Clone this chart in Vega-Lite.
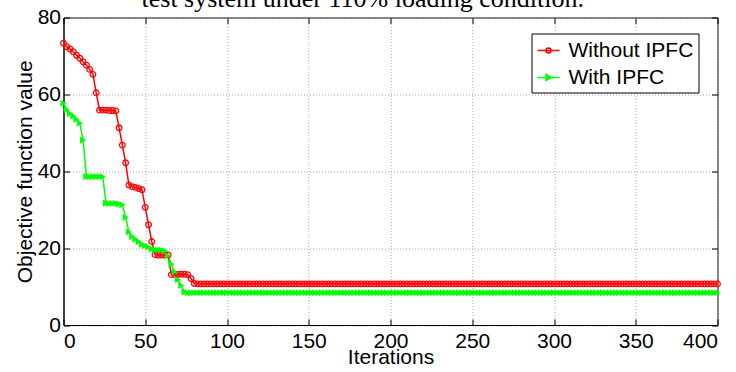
{
"$schema": "https://vega.github.io/schema/vega-lite/v6.json",
"autosize": {"type": "none"},
"padding": {"left": 63.5, "top": 17.5, "right": 18.5, "bottom": 47},
"width": 654,
"height": 307.5,
"background": "white",
"config": {
  "view": {"stroke": "black", "strokeWidth": 1},
  "axis": {"domainColor": "black", "tickColor": "black", "labelColor": "black", "titleColor": "black", "labelFont": "Liberation Sans", "titleFont": "Liberation Sans", "labelFontSize": 21, "titleFontSize": 21, "titleFontWeight": "normal", "gridColor": "#a8a8a8", "gridDash": [1, 2], "gridWidth": 1, "tickSize": -6, "labelPadding": 13}
},
"datasets": {
"caption": [{"caption": "test system under 110% loading condition.", "cx": 183, "cy": 80}],
"iters": [
{"it":0,"wo":73.3,"w":57.7},{"it":2,"wo":72.4,"w":56.0},{"it":4,"wo":71.8,"w":55.0},{"it":6,"wo":71.1,"w":54.4},{"it":8,"wo":70.2,"w":53.5},
{"it":10,"wo":69.4,"w":52.5},{"it":12,"wo":68.5,"w":48.1},{"it":14,"wo":67.6,"w":38.6},{"it":16,"wo":66.5,"w":38.6},{"it":18,"wo":65.2,"w":38.6},
{"it":20,"wo":60.4,"w":38.6},{"it":22,"wo":55.9,"w":38.6},{"it":24,"wo":55.9,"w":38.6},{"it":26,"wo":55.9,"w":31.7},{"it":28,"wo":55.8,"w":31.6},
{"it":30,"wo":55.8,"w":31.6},{"it":32,"wo":55.7,"w":31.6},{"it":34,"wo":51.3,"w":31.5},{"it":36,"wo":46.8,"w":31.3},{"it":38,"wo":42.2,"w":28.0},
{"it":40,"wo":36.4,"w":24.2},{"it":42,"wo":36.0,"w":23.0},{"it":44,"wo":35.8,"w":22.3},{"it":46,"wo":35.5,"w":21.7},{"it":48,"wo":35.2,"w":21.0},
{"it":50,"wo":30.6,"w":20.6},{"it":52,"wo":26.1,"w":20.3},{"it":54,"wo":21.7,"w":19.8},{"it":56,"wo":18.3,"w":19.5},{"it":58,"wo":18.2,"w":19.5},
{"it":60,"wo":18.2,"w":19.5},{"it":62,"wo":18.2,"w":19.3},{"it":64,"wo":18.2,"w":18.0},{"it":66,"wo":13.1,"w":15.8},{"it":68,"wo":13.2,"w":13.8},
{"it":70,"wo":13.2,"w":11.8},{"it":72,"wo":13.2,"w":10.3},{"it":74,"wo":13.2,"w":8.6},{"it":76,"wo":13.1,"w":8.4},{"it":78,"wo":12.1,"w":8.4},
{"it":80,"wo":10.8,"w":8.4},{"it":82,"wo":10.7,"w":8.4},{"it":84,"wo":10.7,"w":8.4},{"it":86,"wo":10.7,"w":8.4},{"it":88,"wo":10.7,"w":8.4},
{"it":90,"wo":10.7,"w":8.4},{"it":92,"wo":10.7,"w":8.4},{"it":94,"wo":10.7,"w":8.4},{"it":96,"wo":10.7,"w":8.4},{"it":98,"wo":10.7,"w":8.4},
{"it":100,"wo":10.7,"w":8.4},{"it":102,"wo":10.7,"w":8.4},{"it":104,"wo":10.7,"w":8.4},{"it":106,"wo":10.7,"w":8.4},{"it":108,"wo":10.7,"w":8.4},
{"it":110,"wo":10.7,"w":8.4},{"it":112,"wo":10.7,"w":8.4},{"it":114,"wo":10.7,"w":8.4},{"it":116,"wo":10.7,"w":8.4},{"it":118,"wo":10.7,"w":8.4},
{"it":120,"wo":10.7,"w":8.4},{"it":122,"wo":10.7,"w":8.4},{"it":124,"wo":10.7,"w":8.4},{"it":126,"wo":10.7,"w":8.4},{"it":128,"wo":10.7,"w":8.4},
{"it":130,"wo":10.7,"w":8.4},{"it":132,"wo":10.7,"w":8.4},{"it":134,"wo":10.7,"w":8.4},{"it":136,"wo":10.7,"w":8.4},{"it":138,"wo":10.7,"w":8.4},
{"it":140,"wo":10.7,"w":8.4},{"it":142,"wo":10.7,"w":8.4},{"it":144,"wo":10.7,"w":8.4},{"it":146,"wo":10.7,"w":8.4},{"it":148,"wo":10.7,"w":8.4},
{"it":150,"wo":10.7,"w":8.4},{"it":152,"wo":10.7,"w":8.4},{"it":154,"wo":10.7,"w":8.4},{"it":156,"wo":10.7,"w":8.4},{"it":158,"wo":10.7,"w":8.4},
{"it":160,"wo":10.7,"w":8.4},{"it":162,"wo":10.7,"w":8.4},{"it":164,"wo":10.7,"w":8.4},{"it":166,"wo":10.7,"w":8.4},{"it":168,"wo":10.7,"w":8.4},
{"it":170,"wo":10.7,"w":8.4},{"it":172,"wo":10.7,"w":8.4},{"it":174,"wo":10.7,"w":8.4},{"it":176,"wo":10.7,"w":8.4},{"it":178,"wo":10.7,"w":8.4},
{"it":180,"wo":10.7,"w":8.4},{"it":182,"wo":10.7,"w":8.4},{"it":184,"wo":10.7,"w":8.4},{"it":186,"wo":10.7,"w":8.4},{"it":188,"wo":10.7,"w":8.4},
{"it":190,"wo":10.7,"w":8.4},{"it":192,"wo":10.7,"w":8.4},{"it":194,"wo":10.7,"w":8.4},{"it":196,"wo":10.7,"w":8.4},{"it":198,"wo":10.7,"w":8.4},
{"it":200,"wo":10.7,"w":8.4},{"it":202,"wo":10.7,"w":8.4},{"it":204,"wo":10.7,"w":8.4},{"it":206,"wo":10.7,"w":8.4},{"it":208,"wo":10.7,"w":8.4},
{"it":210,"wo":10.7,"w":8.4},{"it":212,"wo":10.7,"w":8.4},{"it":214,"wo":10.7,"w":8.4},{"it":216,"wo":10.7,"w":8.4},{"it":218,"wo":10.7,"w":8.4},
{"it":220,"wo":10.7,"w":8.4},{"it":222,"wo":10.7,"w":8.4},{"it":224,"wo":10.7,"w":8.4},{"it":226,"wo":10.7,"w":8.4},{"it":228,"wo":10.7,"w":8.4},
{"it":230,"wo":10.7,"w":8.4},{"it":232,"wo":10.7,"w":8.4},{"it":234,"wo":10.7,"w":8.4},{"it":236,"wo":10.7,"w":8.4},{"it":238,"wo":10.7,"w":8.4},
{"it":240,"wo":10.7,"w":8.4},{"it":242,"wo":10.7,"w":8.4},{"it":244,"wo":10.7,"w":8.4},{"it":246,"wo":10.7,"w":8.4},{"it":248,"wo":10.7,"w":8.4},
{"it":250,"wo":10.7,"w":8.4},{"it":252,"wo":10.7,"w":8.4},{"it":254,"wo":10.7,"w":8.4},{"it":256,"wo":10.7,"w":8.4},{"it":258,"wo":10.7,"w":8.4},
{"it":260,"wo":10.7,"w":8.4},{"it":262,"wo":10.7,"w":8.4},{"it":264,"wo":10.7,"w":8.4},{"it":266,"wo":10.7,"w":8.4},{"it":268,"wo":10.7,"w":8.4},
{"it":270,"wo":10.7,"w":8.4},{"it":272,"wo":10.7,"w":8.4},{"it":274,"wo":10.7,"w":8.4},{"it":276,"wo":10.7,"w":8.4},{"it":278,"wo":10.7,"w":8.4},
{"it":280,"wo":10.7,"w":8.4},{"it":282,"wo":10.7,"w":8.4},{"it":284,"wo":10.7,"w":8.4},{"it":286,"wo":10.7,"w":8.4},{"it":288,"wo":10.7,"w":8.4},
{"it":290,"wo":10.7,"w":8.4},{"it":292,"wo":10.7,"w":8.4},{"it":294,"wo":10.7,"w":8.4},{"it":296,"wo":10.7,"w":8.4},{"it":298,"wo":10.7,"w":8.4},
{"it":300,"wo":10.7,"w":8.4},{"it":302,"wo":10.7,"w":8.4},{"it":304,"wo":10.7,"w":8.4},{"it":306,"wo":10.7,"w":8.4},{"it":308,"wo":10.7,"w":8.4},
{"it":310,"wo":10.7,"w":8.4},{"it":312,"wo":10.7,"w":8.4},{"it":314,"wo":10.7,"w":8.4},{"it":316,"wo":10.7,"w":8.4},{"it":318,"wo":10.7,"w":8.4},
{"it":320,"wo":10.7,"w":8.4},{"it":322,"wo":10.7,"w":8.4},{"it":324,"wo":10.7,"w":8.4},{"it":326,"wo":10.7,"w":8.4},{"it":328,"wo":10.7,"w":8.4},
{"it":330,"wo":10.7,"w":8.4},{"it":332,"wo":10.7,"w":8.4},{"it":334,"wo":10.7,"w":8.4},{"it":336,"wo":10.7,"w":8.4},{"it":338,"wo":10.7,"w":8.4},
{"it":340,"wo":10.7,"w":8.4},{"it":342,"wo":10.7,"w":8.4},{"it":344,"wo":10.7,"w":8.4},{"it":346,"wo":10.7,"w":8.4},{"it":348,"wo":10.7,"w":8.4},
{"it":350,"wo":10.7,"w":8.4},{"it":352,"wo":10.7,"w":8.4},{"it":354,"wo":10.7,"w":8.4},{"it":356,"wo":10.7,"w":8.4},{"it":358,"wo":10.7,"w":8.4},
{"it":360,"wo":10.7,"w":8.4},{"it":362,"wo":10.7,"w":8.4},{"it":364,"wo":10.7,"w":8.4},{"it":366,"wo":10.7,"w":8.4},{"it":368,"wo":10.7,"w":8.4},
{"it":370,"wo":10.7,"w":8.4},{"it":372,"wo":10.7,"w":8.4},{"it":374,"wo":10.7,"w":8.4},{"it":376,"wo":10.7,"w":8.4},{"it":378,"wo":10.7,"w":8.4},
{"it":380,"wo":10.7,"w":8.4},{"it":382,"wo":10.7,"w":8.4},{"it":384,"wo":10.7,"w":8.4},{"it":386,"wo":10.7,"w":8.4},{"it":388,"wo":10.7,"w":8.4},
{"it":390,"wo":10.7,"w":8.4},{"it":392,"wo":10.7,"w":8.4},{"it":394,"wo":10.7,"w":8.4},{"it":396,"wo":10.7,"w":8.4},{"it":398,"wo":10.7,"w":8.4},
{"it":400,"wo":10.7,"w":8.4}
]},
"data": {"name": "iters"},
"transform": [{"fold": ["wo", "w"], "as": ["series", "value"]}],
"encoding": {
  "x": {"field": "it", "type": "quantitative", "scale": {"domain": [0, 400], "nice": false, "zero": false}, "axis": null},
  "y": {"field": "value", "type": "quantitative", "scale": {"domain": [0, 80], "nice": false}, "axis": null}
},
"layer": [
  {
    "mark": {"type": "point", "opacity": 0},
    "encoding": {
      "x": {"field": "it", "type": "quantitative", "axis": {"orient": "top", "labels": false, "grid": false, "title": null, "values": [0,50,100,150,200,250,300,350,400], "domain": false}},
      "y": {"field": "value", "type": "quantitative", "axis": {"orient": "right", "labels": false, "grid": false, "title": null, "values": [0,20,40,60,80], "domain": false}}
    }
  },
  {
    "mark": {"type": "line", "strokeWidth": 1.5},
    "encoding": {
      "x": {"field": "it", "type": "quantitative", "axis": {"orient": "bottom", "title": "Iterations", "values": [0,50,100,150,200,250,300,350,400], "grid": true, "labelPadding": 11, "titlePadding": -5}},
      "y": {"field": "value", "type": "quantitative", "axis": {"orient": "left", "title": "Objective function value", "values": [0,20,40,60,80], "grid": true, "labelPadding": 9, "titlePadding": 2}},
      "color": {"field": "series", "type": "nominal", "scale": {"domain": ["wo", "w"], "range": ["#ff0000", "#00ff00"]},
        "legend": {"title": null, "orient": "none", "legendX": 468, "legendY": 16, "direction": "vertical", "fillColor": "white", "strokeColor": "black", "padding": 5, "cornerRadius": 0,
          "labelFont": "Liberation Sans", "labelFontSize": 21, "labelColor": "black", "labelOffset": 8, "rowPadding": 5, "symbolSize": 484, "symbolStrokeWidth": 1.5,
          "labelExpr": "datum.value === 'wo' ? 'Without IPFC' : 'With IPFC'",
          "encode": {"symbols": {"update": {
            "shape": {"signal": "datum.value === 'wo' ? 'M-1,0L1,0M-0.23,0A0.23,0.23,0,1,0,0.23,0A0.23,0.23,0,1,0,-0.23,0' : 'M-1,0L1,0M-0.22,-0.28L0.28,0L-0.22,0.28Z'"},
            "fill": {"signal": "datum.value === 'w' ? '#00ff00' : 'transparent'"}
          }}}
        }
      },
      "order": {"field": "it", "type": "quantitative"}
    }
  },
  {
    "transform": [{"filter": "datum.series === 'wo'"}],
    "mark": {"type": "point", "shape": "circle", "filled": false, "color": "#ff0000", "size": 32, "strokeWidth": 1.3, "opacity": 1}
  },
  {
    "transform": [{"filter": "datum.series === 'w'"}],
    "mark": {"type": "point", "shape": "triangle-right", "filled": true, "color": "#00ff00", "size": 50, "opacity": 1}
  },
  {
    "data": {"name": "caption"},
    "transform": [],
    "mark": {"type": "text", "font": "Liberation Serif", "fontSize": 26, "color": "black", "baseline": "alphabetic", "align": "center", "dy": -10.5, "clip": false},
    "encoding": {
      "x": {"field": "cx", "type": "quantitative", "axis": null},
      "y": {"field": "cy", "type": "quantitative", "axis": null},
      "text": {"field": "caption"}
    }
  }
],
"resolve": {"axis": {"x": "independent", "y": "independent"}}
}
